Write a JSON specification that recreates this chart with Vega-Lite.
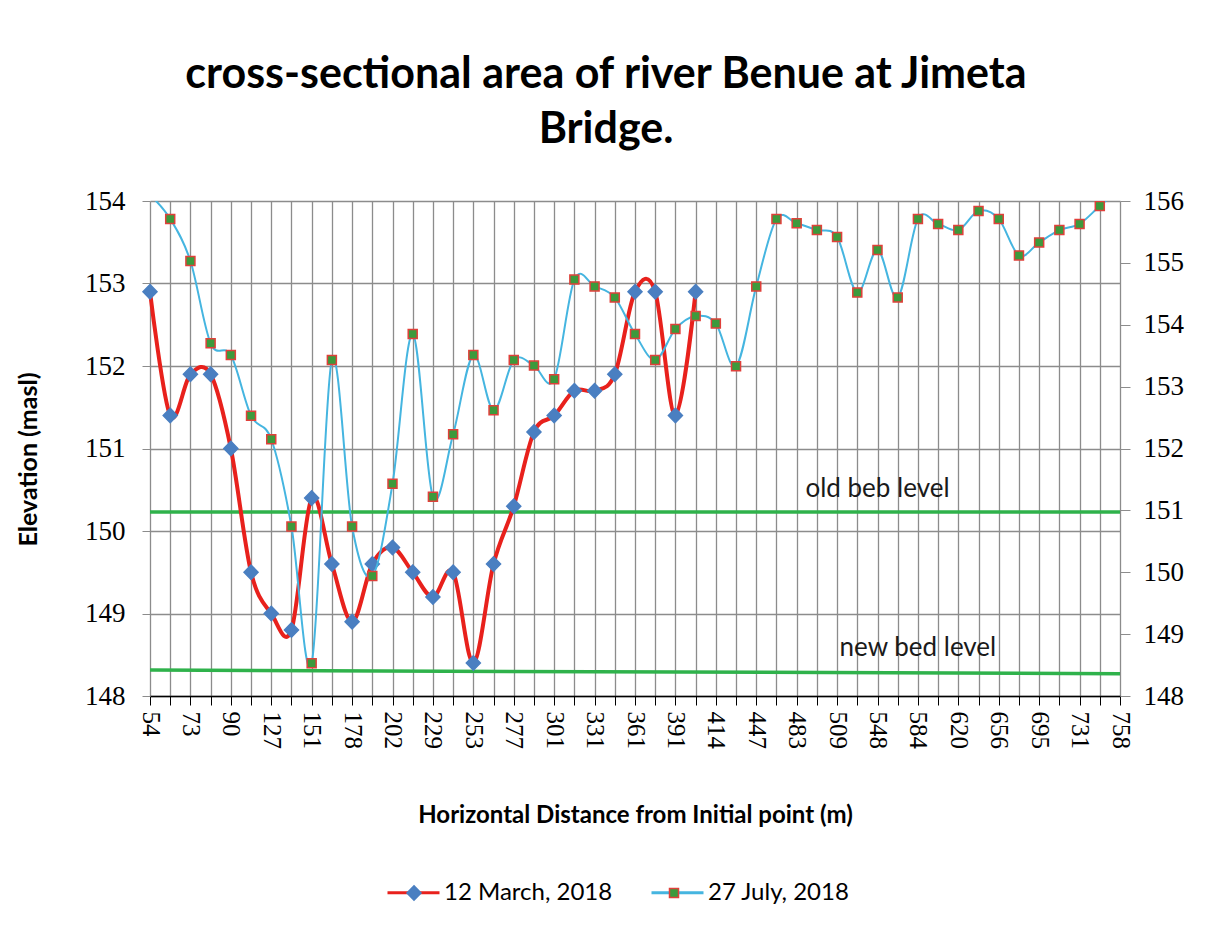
{
  "$schema": "https://vega.github.io/schema/vega-lite/v6.json",
  "autosize": {"type": "none"},
  "width": 970,
  "height": 495,
  "padding": {"left": 150, "top": 201, "right": 90, "bottom": 247},
  "background": "white",
  "config": {"view": {"stroke": null}},
  "title": {
    "text": ["cross-sectional area of river Benue at Jimeta", "Bridge."],
    "font": "Lato",
    "fontSize": 43,
    "fontWeight": "bold",
    "color": "#000",
    "lineHeight": 55,
    "anchor": "middle",
    "frame": "group",
    "dx": -29,
    "offset": 35
  },
  "datasets": {
    "march": [
      {"dist": 54, "elev": 152.9, "series": "12 March, 2018"},
      {"dist": 64, "elev": 151.4, "series": "12 March, 2018"},
      {"dist": 73, "elev": 151.9, "series": "12 March, 2018"},
      {"dist": 81, "elev": 151.9, "series": "12 March, 2018"},
      {"dist": 90, "elev": 151.0, "series": "12 March, 2018"},
      {"dist": 108, "elev": 149.5, "series": "12 March, 2018"},
      {"dist": 127, "elev": 149.0, "series": "12 March, 2018"},
      {"dist": 139, "elev": 148.8, "series": "12 March, 2018"},
      {"dist": 151, "elev": 150.4, "series": "12 March, 2018"},
      {"dist": 165, "elev": 149.6, "series": "12 March, 2018"},
      {"dist": 178, "elev": 148.9, "series": "12 March, 2018"},
      {"dist": 190, "elev": 149.6, "series": "12 March, 2018"},
      {"dist": 202, "elev": 149.8, "series": "12 March, 2018"},
      {"dist": 215, "elev": 149.5, "series": "12 March, 2018"},
      {"dist": 229, "elev": 149.2, "series": "12 March, 2018"},
      {"dist": 241, "elev": 149.5, "series": "12 March, 2018"},
      {"dist": 253, "elev": 148.4, "series": "12 March, 2018"},
      {"dist": 265, "elev": 149.6, "series": "12 March, 2018"},
      {"dist": 277, "elev": 150.3, "series": "12 March, 2018"},
      {"dist": 289, "elev": 151.2, "series": "12 March, 2018"},
      {"dist": 301, "elev": 151.4, "series": "12 March, 2018"},
      {"dist": 316, "elev": 151.7, "series": "12 March, 2018"},
      {"dist": 331, "elev": 151.7, "series": "12 March, 2018"},
      {"dist": 346, "elev": 151.9, "series": "12 March, 2018"},
      {"dist": 361, "elev": 152.9, "series": "12 March, 2018"},
      {"dist": 376, "elev": 152.9, "series": "12 March, 2018"},
      {"dist": 391, "elev": 151.4, "series": "12 March, 2018"},
      {"dist": 402, "elev": 152.9, "series": "12 March, 2018"}
    ],
    "july": [
      {"dist": 54, "elev": 156.1, "series": "27 July, 2018"},
      {"dist": 64, "elev": 155.71, "series": "27 July, 2018"},
      {"dist": 73, "elev": 155.03, "series": "27 July, 2018"},
      {"dist": 81, "elev": 153.7, "series": "27 July, 2018"},
      {"dist": 90, "elev": 153.51, "series": "27 July, 2018"},
      {"dist": 108, "elev": 152.53, "series": "27 July, 2018"},
      {"dist": 127, "elev": 152.15, "series": "27 July, 2018"},
      {"dist": 139, "elev": 150.74, "series": "27 July, 2018"},
      {"dist": 151, "elev": 148.53, "series": "27 July, 2018"},
      {"dist": 165, "elev": 153.43, "series": "27 July, 2018"},
      {"dist": 178, "elev": 150.74, "series": "27 July, 2018"},
      {"dist": 190, "elev": 149.94, "series": "27 July, 2018"},
      {"dist": 202, "elev": 151.43, "series": "27 July, 2018"},
      {"dist": 215, "elev": 153.85, "series": "27 July, 2018"},
      {"dist": 229, "elev": 151.22, "series": "27 July, 2018"},
      {"dist": 241, "elev": 152.23, "series": "27 July, 2018"},
      {"dist": 253, "elev": 153.51, "series": "27 July, 2018"},
      {"dist": 265, "elev": 152.62, "series": "27 July, 2018"},
      {"dist": 277, "elev": 153.43, "series": "27 July, 2018"},
      {"dist": 289, "elev": 153.34, "series": "27 July, 2018"},
      {"dist": 301, "elev": 153.12, "series": "27 July, 2018"},
      {"dist": 316, "elev": 154.73, "series": "27 July, 2018"},
      {"dist": 331, "elev": 154.62, "series": "27 July, 2018"},
      {"dist": 346, "elev": 154.44, "series": "27 July, 2018"},
      {"dist": 361, "elev": 153.85, "series": "27 July, 2018"},
      {"dist": 376, "elev": 153.43, "series": "27 July, 2018"},
      {"dist": 391, "elev": 153.93, "series": "27 July, 2018"},
      {"dist": 402, "elev": 154.14, "series": "27 July, 2018"},
      {"dist": 414, "elev": 154.02, "series": "27 July, 2018"},
      {"dist": 430, "elev": 153.33, "series": "27 July, 2018"},
      {"dist": 447, "elev": 154.62, "series": "27 July, 2018"},
      {"dist": 465, "elev": 155.71, "series": "27 July, 2018"},
      {"dist": 483, "elev": 155.64, "series": "27 July, 2018"},
      {"dist": 496, "elev": 155.53, "series": "27 July, 2018"},
      {"dist": 509, "elev": 155.42, "series": "27 July, 2018"},
      {"dist": 528, "elev": 154.52, "series": "27 July, 2018"},
      {"dist": 548, "elev": 155.21, "series": "27 July, 2018"},
      {"dist": 566, "elev": 154.44, "series": "27 July, 2018"},
      {"dist": 584, "elev": 155.71, "series": "27 July, 2018"},
      {"dist": 602, "elev": 155.63, "series": "27 July, 2018"},
      {"dist": 620, "elev": 155.53, "series": "27 July, 2018"},
      {"dist": 638, "elev": 155.84, "series": "27 July, 2018"},
      {"dist": 656, "elev": 155.71, "series": "27 July, 2018"},
      {"dist": 675, "elev": 155.12, "series": "27 July, 2018"},
      {"dist": 695, "elev": 155.33, "series": "27 July, 2018"},
      {"dist": 713, "elev": 155.53, "series": "27 July, 2018"},
      {"dist": 731, "elev": 155.63, "series": "27 July, 2018"},
      {"dist": 745, "elev": 155.92, "series": "27 July, 2018"},
      {"dist": 758, "elev": 156.2, "series": "27 July, 2018"}
    ],
    "levels": [
      {"dist": 54, "elev": 150.23, "level": "old"},
      {"dist": 758, "elev": 150.23, "level": "old"},
      {"dist": 54, "elev": 148.315, "level": "new"},
      {"dist": 758, "elev": 148.27, "level": "new"}
    ],
    "levelText": [
      {"dist": 548, "elev": 150.41, "label": "old beb level"},
      {"dist": 584, "elev": 148.48, "label": "new bed level"}
    ]
  },
  "encoding": {
    "x": {
      "field": "dist",
      "type": "ordinal",
      "scale": {
        "type": "point",
        "padding": 0,
        "domain": [54, 64, 73, 81, 90, 108, 127, 139, 151, 165, 178, 190, 202, 215, 229, 241, 253, 265, 277, 289, 301, 316, 331, 346, 361, 376, 391, 402, 414, 430, 447, 465, 483, 496, 509, 528, 548, 566, 584, 602, 620, 638, 656, 675, 695, 713, 731, 745, 758]
      },
      "axis": {
        "title": "Horizontal Distance from Initial point (m)",
        "titleFont": "Lato",
        "titleFontSize": 24,
        "titleFontWeight": "bold",
        "titleColor": "#000",
        "titleY": 119,
        "titleBaseline": "middle",
        "labelAngle": 90,
        "labelOverlap": false,
        "labelExpr": "indexof([54,73,90,127,151,178,202,229,253,277,301,331,361,391,414,447,483,509,548,584,620,656,695,731,758], datum.value) >= 0 ? datum.label : ''",
        "labelFont": "Liberation Serif",
        "labelFontSize": 25,
        "labelColor": "#000",
        "labelPadding": 6,
        "grid": true,
        "gridColor": "#8c8c8c",
        "gridWidth": 1.3,
        "tickSize": 9,
        "tickColor": "#000",
        "tickWidth": 1,
        "domainColor": "#000",
        "domainWidth": 1.5
      }
    }
  },
  "layer": [
    {
      "encoding": {
        "y": {
          "field": "elev",
          "type": "quantitative",
          "scale": {"domain": [148, 154], "nice": false, "zero": false},
          "axis": {
            "title": "Elevation (masl)",
            "titleFont": "Lato",
            "titleFontSize": 25,
            "titleFontWeight": "bold",
            "titleColor": "#000",
            "titleX": -122,
            "titleY": 258,
            "titleAlign": "center",
            "titleBaseline": "middle",
            "values": [148, 149, 150, 151, 152, 153, 154],
            "grid": true,
            "gridColor": "#8c8c8c",
            "gridWidth": 1.3,
            "domain": false,
            "tickSize": 8,
            "tickColor": "#8c8c8c",
            "labelFont": "Liberation Serif",
            "labelFontSize": 27,
            "labelPadding": 17,
            "labelColor": "#000"
          }
        }
      },
      "layer": [
        {
          "data": {"name": "levels"},
          "mark": {"type": "line", "color": "#2fb24b", "strokeWidth": 3.5},
          "encoding": {"detail": {"field": "level", "type": "nominal"}}
        },
        {
          "data": {"name": "levelText"},
          "mark": {"type": "text", "font": "Lato", "fontSize": 26, "color": "#1a1a1a", "align": "center", "baseline": "alphabetic"},
          "encoding": {"text": {"field": "label", "type": "nominal"}}
        },
        {
          "data": {"name": "march"},
          "mark": {"type": "line", "interpolate": "cardinal", "strokeWidth": 4},
          "encoding": {
            "color": {
              "field": "series", "type": "nominal",
              "scale": {"domain": ["12 March, 2018", "27 July, 2018"], "range": ["#e8211c", "#45b5e0"]},
              "legend": {"orient": "none", "legendX": 236, "legendY": 664, "direction": "horizontal", "title": null, "symbolType": "stroke", "symbolSize": 2704, "symbolStrokeWidth": 3, "labelFont": "Lato", "labelFontSize": 24, "labelColor": "#000", "labelLimit": 0, "labelOffset": 3, "columnPadding": 32, "padding": 0}
            }
          }
        },
        {
          "data": {"name": "march"},
          "mark": {"type": "point", "filled": true, "size": 2704, "opacity": 1, "strokeWidth": 1.5},
          "encoding": {
            "shape": {
              "field": "series", "type": "nominal",
              "scale": {"domain": ["12 March, 2018", "27 July, 2018", "zz"], "range": ["M0,-0.28L0.27,0L0,0.28L-0.27,0Z", "M-0.173,-0.173H0.173V0.173H-0.173Z", "circle"]},
              "legend": {"orient": "none", "legendX": 237, "legendY": 665, "direction": "horizontal", "title": null, "symbolSize": 2704, "symbolStrokeWidth": 1.5, "labelFont": "Lato", "labelFontSize": 24, "labelLimit": 0, "labelOpacity": 0, "labelColor": "transparent", "labelOffset": 5, "columnPadding": 32, "padding": 0, "values": ["12 March, 2018", "27 July, 2018"]}
            },
            "fill": {
              "field": "series", "type": "nominal",
              "scale": {"domain": ["12 March, 2018", "27 July, 2018", "zz"], "range": ["#4a7fc1", "#3c9a3c", "#000000"]},
              "legend": {"orient": "none", "legendX": 237, "legendY": 665, "direction": "horizontal", "title": null, "symbolSize": 2704, "symbolStrokeWidth": 1.5, "labelFont": "Lato", "labelFontSize": 24, "labelLimit": 0, "labelOpacity": 0, "labelColor": "transparent", "labelOffset": 5, "columnPadding": 32, "padding": 0, "values": ["12 March, 2018", "27 July, 2018"]}
            },
            "stroke": {
              "field": "series", "type": "nominal",
              "scale": {"domain": ["12 March, 2018", "27 July, 2018", "zz"], "range": ["#4a7fc1", "#e0403a", "#000000"]},
              "legend": {"orient": "none", "legendX": 237, "legendY": 665, "direction": "horizontal", "title": null, "symbolSize": 2704, "symbolStrokeWidth": 1.5, "labelFont": "Lato", "labelFontSize": 24, "labelLimit": 0, "labelOpacity": 0, "labelColor": "transparent", "labelOffset": 5, "columnPadding": 32, "padding": 0, "values": ["12 March, 2018", "27 July, 2018"]}
            }
          }
        }
      ]
    },
    {
      "encoding": {
        "y": {
          "field": "elev",
          "type": "quantitative",
          "scale": {"domain": [148, 156], "nice": false, "zero": false},
          "axis": {
            "orient": "right",
            "title": null,
            "values": [148, 149, 150, 151, 152, 153, 154, 155, 156],
            "grid": false,
            "domain": false,
            "tickSize": 10,
            "tickColor": "#8c8c8c",
            "labelFont": "Liberation Serif",
            "labelFontSize": 27,
            "labelPadding": 13,
            "labelColor": "#000"
          }
        }
      },
      "layer": [
        {
          "data": {"name": "july"},
          "mark": {"type": "line", "interpolate": "cardinal", "clip": true, "strokeWidth": 2},
          "encoding": {
            "color": {
              "field": "series", "type": "nominal",
              "scale": {"domain": ["12 March, 2018", "27 July, 2018"], "range": ["#e8211c", "#45b5e0"]},
              "legend": {"orient": "none", "legendX": 236, "legendY": 664, "direction": "horizontal", "title": null, "symbolType": "stroke", "symbolSize": 2704, "symbolStrokeWidth": 3, "labelFont": "Lato", "labelFontSize": 24, "labelColor": "#000", "labelLimit": 0, "labelOffset": 3, "columnPadding": 32, "padding": 0}
            }
          }
        },
        {
          "data": {"name": "july"},
          "mark": {"type": "point", "filled": true, "size": 2704, "opacity": 1, "strokeWidth": 1.5, "clip": true},
          "encoding": {
            "shape": {
              "field": "series", "type": "nominal",
              "scale": {"domain": ["12 March, 2018", "27 July, 2018", "zz"], "range": ["M0,-0.28L0.27,0L0,0.28L-0.27,0Z", "M-0.173,-0.173H0.173V0.173H-0.173Z", "circle"]},
              "legend": {"orient": "none", "legendX": 237, "legendY": 665, "direction": "horizontal", "title": null, "symbolSize": 2704, "symbolStrokeWidth": 1.5, "labelFont": "Lato", "labelFontSize": 24, "labelLimit": 0, "labelOpacity": 0, "labelColor": "transparent", "labelOffset": 5, "columnPadding": 32, "padding": 0, "values": ["12 March, 2018", "27 July, 2018"]}
            },
            "fill": {
              "field": "series", "type": "nominal",
              "scale": {"domain": ["12 March, 2018", "27 July, 2018", "zz"], "range": ["#4a7fc1", "#3c9a3c", "#000000"]},
              "legend": {"orient": "none", "legendX": 237, "legendY": 665, "direction": "horizontal", "title": null, "symbolSize": 2704, "symbolStrokeWidth": 1.5, "labelFont": "Lato", "labelFontSize": 24, "labelLimit": 0, "labelOpacity": 0, "labelColor": "transparent", "labelOffset": 5, "columnPadding": 32, "padding": 0, "values": ["12 March, 2018", "27 July, 2018"]}
            },
            "stroke": {
              "field": "series", "type": "nominal",
              "scale": {"domain": ["12 March, 2018", "27 July, 2018", "zz"], "range": ["#4a7fc1", "#e0403a", "#000000"]},
              "legend": {"orient": "none", "legendX": 237, "legendY": 665, "direction": "horizontal", "title": null, "symbolSize": 2704, "symbolStrokeWidth": 1.5, "labelFont": "Lato", "labelFontSize": 24, "labelLimit": 0, "labelOpacity": 0, "labelColor": "transparent", "labelOffset": 5, "columnPadding": 32, "padding": 0, "values": ["12 March, 2018", "27 July, 2018"]}
            }
          }
        }
      ]
    }
  ],
  "resolve": {"scale": {"y": "independent"}}
}
